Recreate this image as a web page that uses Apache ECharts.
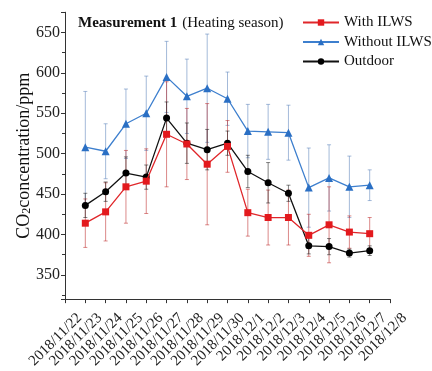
<!DOCTYPE html>
<html>
<head>
<meta charset="utf-8">
<script src="https://cdn.jsdelivr.net/npm/echarts@6/dist/echarts.min.js"></script>
<style>
  html, body { margin: 0; padding: 0; background: #fff; }
  #chart { width: 432px; height: 371px; }
</style>
</head>
<body>
<div id="chart"></div>
<script>
// Category labels along the x axis (one tick per day)
const dates = [
  '2018/11/22', '2018/11/23', '2018/11/24', '2018/11/25', '2018/11/26',
  '2018/11/27', '2018/11/28', '2018/11/29', '2018/11/30', '2018/12/1',
  '2018/12/2', '2018/12/3', '2018/12/4', '2018/12/5', '2018/12/6',
  '2018/12/7', '2018/12/8'
];
// Measured days (11/23 .. 12/7)
const measuredDates = dates.slice(1, 16);

// Mean CO2 concentration, ppm
const withILWS    = [414, 428, 459, 466, 524, 512, 487, 509, 427, 421, 421, 399, 412, 403, 401];
const withoutILWS = [508, 503, 537, 550, 595, 571, 581, 568, 528, 527, 526, 458, 470, 459, 461];
const outdoor     = [436, 453, 476, 471, 544, 513, 505, 513, 478, 464, 451, 386, 385, 377, 380];

// Standard deviations, ppm
const withILWSErr    = [30, 36, 45, 40, 65, 44, 75, 32, 29, 34, 34, 26, 47, 20, 20];
const withoutILWSErr = [69, 34, 43, 46, 44, 46, 67, 33, 33, 34, 34, 49, 41, 38, 19];
const outdoorErr     = [15, 12, 20, 15, 20, 25, 25, 15, 20, 25, 10, 10, 10, 5, 6];

const serif = '"Liberation Serif", "Times New Roman", serif';

function pairs(values) {
  return values.map((v, i) => [measuredDates[i], v]);
}

// Vertical error bars with small caps, placed through the chart's own axes
function errorBars(values, errs, color) {
  return {
    type: 'custom',
    silent: true,
    z: 1,
    encode: { x: 0, y: 1 },
    data: values.map((v, i) => [dates.indexOf(measuredDates[i]), v, errs[i]]),
    renderItem(params, api) {
      const x = api.value(0), v = api.value(1), e = api.value(2);
      const hi = api.coord([x, v + e]);
      const lo = api.coord([x, v - e]);
      const cap = 2;
      const style = { stroke: color, lineWidth: 1 };
      return {
        type: 'group',
        children: [
          { type: 'line', shape: { x1: hi[0], y1: hi[1], x2: lo[0], y2: lo[1] }, style },
          { type: 'line', shape: { x1: hi[0] - cap, y1: hi[1], x2: hi[0] + cap, y2: hi[1] }, style },
          { type: 'line', shape: { x1: lo[0] - cap, y1: lo[1], x2: lo[0] + cap, y2: lo[1] }, style }
        ]
      };
    }
  };
}

const chart = echarts.init(document.getElementById('chart'), null, { renderer: 'canvas' });

chart.setOption({
  animation: false,
  backgroundColor: '#fff',
  title: {
    text: '{b|Measurement 1} {n|(Heating season)}',
    left: 73,
    top: 9,
    textStyle: {
      fontWeight: 'normal',
      rich: {
        b: { fontFamily: serif, fontWeight: 'bold', fontSize: 15, color: '#111' },
        n: { fontFamily: serif, fontWeight: 'normal', fontSize: 15, color: '#111' }
      }
    }
  },
  legend: {
    data: ['With ILWS', 'Without ILWS', 'Outdoor'],
    orient: 'vertical',
    left: 297,
    top: 10,
    itemWidth: 36,
    itemHeight: 8,
    itemGap: 4.5,
    textStyle: { fontFamily: serif, fontSize: 15, color: '#111', lineHeight: 15 }
  },
  grid: { left: 65, right: 42, top: 12.25, bottom: 64, containLabel: false },
  xAxis: {
    type: 'category',
    data: dates,
    boundaryGap: false,
    axisLine: { lineStyle: { color: '#333', width: 1 } },
    axisTick: { show: true, inside: false, length: 4, lineStyle: { color: '#333' } },
    axisLabel: {
      interval: 0,
      rotate: 45,
      margin: 2,
      verticalAlign: 'top',
      padding: [13, 0, 0, 0],
      fontFamily: serif,
      fontSize: 15,
      color: '#222'
    },
    splitLine: { show: false }
  },
  yAxis: {
    type: 'value',
    min: 320,
    max: 675,
    splitNumber: 7,
    name: '{a|CO}{s|2}{a|concentration/ppm}',
    nameLocation: 'middle',
    nameGap: 32,
    nameMoveOverlap: false,
    nameTextStyle: {
      rich: {
        a: { fontFamily: serif, fontSize: 18, color: '#111' },
        s: { fontFamily: serif, fontSize: 12, color: '#111', verticalAlign: 'bottom' }
      }
    },
    axisLine: { show: true, lineStyle: { color: '#333', width: 1 } },
    axisTick: { show: true, inside: false, length: 4, lineStyle: { color: '#333' } },
    minorTick: { show: true, splitNumber: 2, length: 3, lineStyle: { color: '#333' } },
    axisLabel: {
      showMinLabel: false,
      showMaxLabel: false,
      margin: 5,
      fontFamily: serif,
      fontSize: 16,
      color: '#222'
    },
    splitLine: { show: false }
  },
  series: [
    errorBars(withoutILWS, withoutILWSErr, 'rgba(90,130,185,0.55)'),
    errorBars(withILWS, withILWSErr, 'rgba(190,40,40,0.55)'),
    errorBars(outdoor, outdoorErr, 'rgba(30,30,30,0.55)'),
    {
      name: 'Without ILWS',
      type: 'line',
      data: pairs(withoutILWS),
      symbol: 'triangle',
      symbolSize: 8,
      z: 3,
      lineStyle: { color: '#3d7fce', width: 1.3 },
      itemStyle: { color: '#2a6fc4' }
    },
    {
      name: 'Outdoor',
      type: 'line',
      data: pairs(outdoor),
      symbol: 'circle',
      symbolSize: 7,
      z: 4,
      lineStyle: { color: '#111', width: 1.3 },
      itemStyle: { color: '#000' }
    },
    {
      name: 'With ILWS',
      type: 'line',
      data: pairs(withILWS),
      symbol: 'rect',
      symbolSize: 7,
      z: 5,
      lineStyle: { color: '#e0262a', width: 1.3 },
      itemStyle: { color: '#e3191d' }
    }
  ]
});
</script>
</body>
</html>
